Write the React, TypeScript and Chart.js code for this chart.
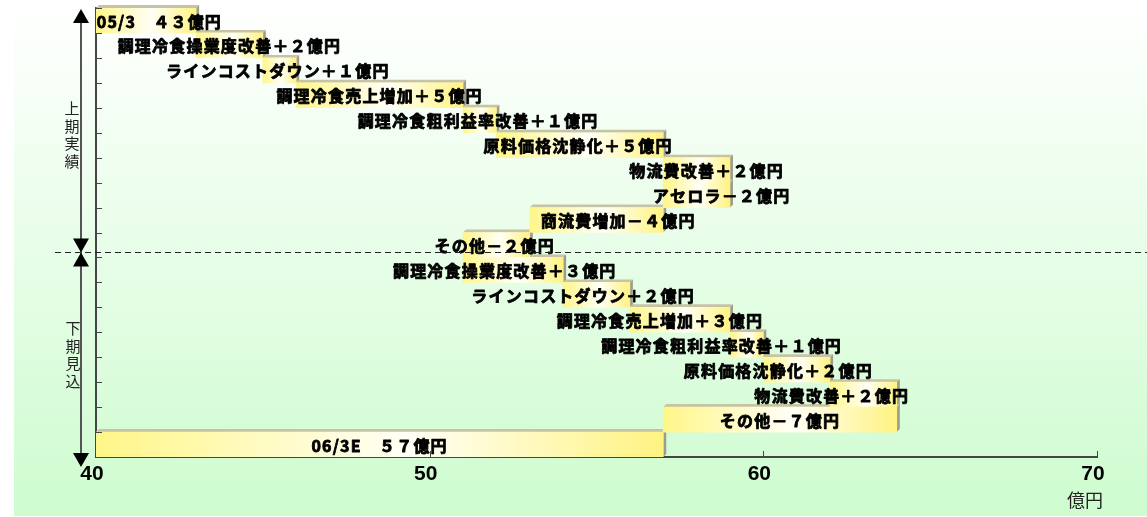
import { useEffect, useRef } from 'react';
import { Chart, registerables } from 'chart.js';

Chart.register(...registerables);

// Row captions (top to bottom)
const rowLabels = [
  '05/3　４３億円',
  '調理冷食操業度改善＋２億円',
  'ラインコストダウン＋１億円',
  '調理冷食売上増加＋５億円',
  '調理冷食粗利益率改善＋１億円',
  '原料価格沈静化＋５億円',
  '物流費改善＋２億円',
  'アセロラ－２億円',
  '商流費増加－４億円',
  'その他－２億円',
  '調理冷食操業度改善＋３億円',
  'ラインコストダウン＋２億円',
  '調理冷食売上増加＋３億円',
  '調理冷食粗利益率改善＋１億円',
  '原料価格沈静化＋２億円',
  '物流費改善＋２億円',
  'その他－７億円',
  '06/3E　５７億円',
];
// Waterfall step: value before and after each row (億円)
const barFrom = [40, 43, 45, 46, 51, 52, 57, 59, 57, 53, 51, 54, 56, 59, 60, 62, 64, 40];
const barTo = [43, 45, 46, 51, 52, 57, 59, 57, 53, 51, 54, 56, 59, 60, 62, 64, 57, 57];
// Where each caption is centred, in 億円
const labelCenter = [41.9, 44.0, 45.45, 48.5, 51.45, 54.45, 58.3, 58.75, 55.65, 51.95, 52.25, 54.6, 56.9, 58.75, 60.45, 62.05, 60.5, 48.5];
const xMin = 40;
const xMax = 70;
const xStep = 10;
const unitLabel = '億円';
const firstHalfLabel = '上期実績';
const secondHalfLabel = '下期見込';
const firstHalfRows = 10;

export default function App() {
  const ref = useRef<HTMLCanvasElement>(null);

  useEffect(() => {
    document.body.style.margin = '0';
    const canvas = ref.current;
    if (!canvas) return;
    const D = 3;
    const axisColor = '#454545';

    const deco = {
      id: 'deco',
      beforeDraw(chart: any) {
        const { ctx, width, height } = chart;
        ctx.save();
        const g = ctx.createLinearGradient(0, 0, 0, height);
        g.addColorStop(0, '#ffffff');
        g.addColorStop(1, '#cefccf');
        ctx.fillStyle = g;
        ctx.fillRect(14, 0, width - 14, height - 1);
        ctx.restore();
      },
      beforeDatasetsDraw(chart: any) {
        const { ctx } = chart;
        const meta = chart.getDatasetMeta(0);
        ctx.save();
        meta.data.forEach((bar: any) => {
          const p = bar.getProps(['x', 'base', 'y', 'height'], true);
          const x0 = Math.min(p.x, p.base);
          const x1 = Math.max(p.x, p.base);
          const top = p.y - p.height / 2;
          const bottom = p.y + p.height / 2;
          ctx.fillStyle = '#c6c4a4';
          ctx.beginPath();
          ctx.moveTo(x0, top);
          ctx.lineTo(x0 + D, top - D);
          ctx.lineTo(x1 + D, top - D);
          ctx.lineTo(x1, top);
          ctx.closePath();
          ctx.fill();
          ctx.fillStyle = '#9e9c8c';
          ctx.beginPath();
          ctx.moveTo(x1, top);
          ctx.lineTo(x1 + D, top - D);
          ctx.lineTo(x1 + D, bottom - D);
          ctx.lineTo(x1, bottom);
          ctx.closePath();
          ctx.fill();
        });
        ctx.restore();
      },
      afterDatasetsDraw(chart: any) {
        const { ctx } = chart;
        const xs = chart.scales.x;
        const ys = chart.scales.y;
        ctx.save();
        ctx.font = "bold 16px 'Noto Sans CJK JP'";
        (ctx as any).letterSpacing = '1.2px';
        ctx.fillStyle = '#000';
        ctx.strokeStyle = '#000';
        ctx.lineWidth = 0.8;
        ctx.lineJoin = 'round';
        ctx.textAlign = 'center';
        ctx.textBaseline = 'middle';
        rowLabels.forEach((t, i) => {
          const x = xs.getPixelForValue(labelCenter[i]);
          const y = ys.getPixelForValue(i) + 1;
          ctx.strokeText(t, x, y);
          ctx.fillText(t, x, y);
        });
        ctx.restore();
      },
      afterDraw(chart: any) {
        const { ctx, chartArea, width } = chart;
        const xs = chart.scales.x;
        const ys = chart.scales.y;
        const step = ys.getPixelForValue(1) - ys.getPixelForValue(0);
        ctx.save();
        // y-axis inner ticks at row boundaries
        ctx.strokeStyle = axisColor;
        ctx.lineWidth = 1;
        for (let i = 0; i <= rowLabels.length; i++) {
          const y = Math.round(ys.getPixelForValue(i) - step / 2) + 0.5;
          ctx.beginPath();
          ctx.moveTo(chartArea.left, y);
          ctx.lineTo(chartArea.left + 6, y);
          ctx.stroke();
        }
        // x-axis inner ticks
        for (let v = xMin + xStep; v <= xMax; v += xStep) {
          const x = Math.round(xs.getPixelForValue(v)) + 0.5;
          ctx.beginPath();
          ctx.moveTo(x, chartArea.bottom);
          ctx.lineTo(x, chartArea.bottom - 6);
          ctx.stroke();
        }
        // dashed separator
        const yDash = Math.round(ys.getPixelForValue(firstHalfRows) - step / 2 - 5) + 0.5;
        ctx.strokeStyle = '#222';
        ctx.setLineDash([6, 4]);
        ctx.beginPath();
        ctx.moveTo(55, yDash);
        ctx.lineTo(width, yDash);
        ctx.stroke();
        ctx.setLineDash([]);
        // side arrows
        const ax = 81;
        const yTop = chartArea.top + 1;
        const yBot = chartArea.bottom + 10;
        ctx.strokeStyle = '#555';
        ctx.lineWidth = 2;
        ctx.beginPath();
        ctx.moveTo(ax, yTop + 10);
        ctx.lineTo(ax, yBot - 10);
        ctx.stroke();
        ctx.fillStyle = '#000';
        const tri = (tipY: number, dir: number) => {
          ctx.beginPath();
          ctx.moveTo(ax, tipY);
          ctx.lineTo(ax - 8, tipY + dir * 14);
          ctx.lineTo(ax + 8, tipY + dir * 14);
          ctx.closePath();
          ctx.fill();
        };
        tri(yTop, 1);
        tri(yDash, -1);
        tri(yDash, 1);
        tri(yBot, -1);
        // vertical captions
        ctx.font = "15px 'Noto Sans CJK JP'";
        ctx.fillStyle = '#222';
        ctx.textAlign = 'center';
        ctx.textBaseline = 'middle';
        const vtext = (t: string, cx: number, cy: number) => {
          const chars = Array.from(t);
          const gap = 17.6;
          chars.forEach((c, k) => {
            ctx.fillText(c, cx, cy + (k - (chars.length - 1) / 2) * gap);
          });
        };
        vtext(firstHalfLabel, 72, (yTop + yDash) / 2 + 4);
        vtext(secondHalfLabel, 73, (yDash + yBot) / 2 - 5);
        // unit
        ctx.font = "18px 'Noto Sans CJK JP'";
        ctx.fillStyle = '#222';
        ctx.fillText(unitLabel, xs.getPixelForValue(xMax) - 12, chartArea.bottom + 43);
        ctx.restore();
      },
    };

    const chart = new Chart(canvas, {
      type: 'bar',
      data: {
        labels: rowLabels,
        datasets: [
          {
            data: barFrom.map((s, i) => [s, barTo[i]]) as any,
            barPercentage: 1,
            categoryPercentage: 1,
            borderWidth: 0,
            backgroundColor: (c: any) => {
              const ch = c.chart;
              if (!ch.chartArea || !Array.isArray(c.raw)) return '#fff68c';
              const xs = ch.scales.x;
              const x0 = xs.getPixelForValue(Math.min(c.raw[0], c.raw[1]));
              const x1 = xs.getPixelForValue(Math.max(c.raw[0], c.raw[1]));
              const g = ch.ctx.createLinearGradient(x0, 0, x1, 0);
              g.addColorStop(0, '#fff688');
              g.addColorStop(0.55, '#fffff6');
              g.addColorStop(1, '#fff382');
              return g;
            },
          },
        ],
      },
      options: {
        indexAxis: 'y',
        animation: false,
        responsive: false,
        events: [],
        layout: { padding: { top: 8, right: 50, bottom: 0, left: 0 } },
        plugins: { legend: { display: false }, tooltip: { enabled: false } },
        scales: {
          x: {
            type: 'linear',
            min: xMin,
            max: xMax,
            z: 1,
            grid: { display: false, drawTicks: false },
            border: { display: true, color: axisColor, width: 2 },
            ticks: {
              stepSize: xStep,
              padding: 5,
              labelOffset: -4,
              color: '#000',
              font: { family: "'Liberation Sans', Arial", size: 21, weight: 'bold' },
            },
            afterFit(s: any) {
              s.height = 60;
            },
          },
          y: {
            type: 'category',
            z: 1,
            grid: { display: false, drawTicks: false },
            border: { display: true, color: axisColor, width: 2 },
            ticks: { display: false },
            afterFit(s: any) {
              s.width = 96;
            },
          },
        },
      },
      plugins: [deco],
    } as any);

    return () => chart.destroy();
  }, []);

  return <canvas ref={ref} width={1147} height={517} style={{ display: 'block' }} />;
}
